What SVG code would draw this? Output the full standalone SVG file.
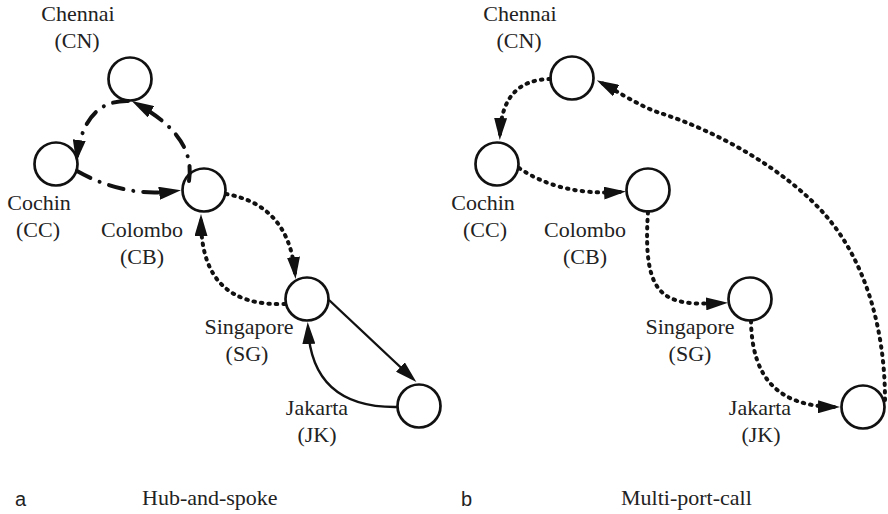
<svg xmlns="http://www.w3.org/2000/svg" width="888" height="514" viewBox="0 0 888 514">
  <defs>
    <marker id="arrow" viewBox="0 0 22 13" markerWidth="22" markerHeight="13" refX="16" refY="6.5" orient="auto" markerUnits="userSpaceOnUse">
      <path d="M0,0 L22,6.5 L0,13 Z" fill="#111"/>
    </marker>
    <style>
      .port { fill: #fff; stroke: #111; stroke-width: 2.7; }
      .lbl { font-family: "Liberation Serif", "Times New Roman", serif; font-size: 22px; fill: #222; text-anchor: middle; }
      .cap { font-family: "Liberation Serif", "Times New Roman", serif; font-size: 22px; fill: #222; }
      .tag { font-family: "Liberation Sans", Arial, sans-serif; font-size: 20px; fill: #222; }
      .edge { fill: none; stroke: #111; marker-end: url(#arrow); }
      .solid { stroke-width: 2.4; }
      .dotted { stroke-width: 4; stroke-dasharray: 1.5 6; stroke-linecap: round; }
      .dashdot { stroke-width: 4; stroke-dasharray: 15 10 0.01 10; stroke-linecap: round; }
    </style>
  </defs>

  <!-- Panel a: hub-and-spoke -->
  <g id="a-CN"><circle class="port" cx="130" cy="79" r="21.5"/><text class="lbl" x="78" y="21">Chennai</text><text class="lbl" x="77" y="48">(CN)</text></g>
  <g id="a-CC"><circle class="port" cx="56" cy="164" r="21.5"/><text class="lbl" x="39" y="210">Cochin</text><text class="lbl" x="38" y="237">(CC)</text></g>
  <g id="a-CB"><circle class="port" cx="204" cy="190" r="21.5"/><text class="lbl" x="142" y="237">Colombo</text><text class="lbl" x="142" y="264">(CB)</text></g>
  <g id="a-SG"><circle class="port" cx="307" cy="299" r="21.5"/><text class="lbl" x="249" y="334">Singapore</text><text class="lbl" x="247" y="361">(SG)</text></g>
  <g id="a-JK"><circle class="port" cx="419" cy="406" r="21.5"/><text class="lbl" x="317" y="415">Jakarta</text><text class="lbl" x="317" y="442">(JK)</text></g>

  <!-- Panel b: multi-port-call -->
  <g id="b-CN"><circle class="port" cx="572" cy="78" r="21.5"/><text class="lbl" x="520" y="21">Chennai</text><text class="lbl" x="519" y="48">(CN)</text></g>
  <g id="b-CC"><circle class="port" cx="497" cy="164" r="21.5"/><text class="lbl" x="483" y="210">Cochin</text><text class="lbl" x="485" y="237">(CC)</text></g>
  <g id="b-CB"><circle class="port" cx="648" cy="190" r="21.5"/><text class="lbl" x="585" y="237">Colombo</text><text class="lbl" x="585" y="264">(CB)</text></g>
  <g id="b-SG"><circle class="port" cx="750" cy="299" r="21.5"/><text class="lbl" x="690" y="334">Singapore</text><text class="lbl" x="690" y="361">(SG)</text></g>
  <g id="b-JK"><circle class="port" cx="863" cy="407" r="21.5"/><text class="lbl" x="760" y="415">Jakarta</text><text class="lbl" x="761" y="442">(JK)</text></g>

  <g id="connectors">
    <!-- a: feeder loop (dash-dot) -->
    <path class="edge dashdot" d="M128 101 Q85 100 77 156"/>
    <path class="edge dashdot" d="M77 171 Q125 198 175 191"/>
    <path class="edge dashdot" d="M189 181 C194 150 175 125 137 104"/>
    <!-- a: CB / SG (dotted) -->
    <path class="edge dotted" d="M226 194 C260 200 290 220 295 273"/>
    <path class="edge dotted" d="M285 304 C230 306 201 280 201 220"/>
    <!-- a: SG / JK (solid) -->
    <path class="edge solid" d="M329 300 L412 378"/>
    <path class="edge solid" d="M397 407 Q312 408 308 328"/>

    <!-- b: single loop (dotted) -->
    <path class="edge dotted" d="M550 79 Q502 80 500 134"/>
    <path class="edge dotted" d="M519 168 Q560 196 620 192"/>
    <path class="edge dotted" d="M648 212 C642 300 665 306 722 303"/>
    <path class="edge dotted" d="M751 321 C752 380 780 406 834 407"/>
    <path class="edge dotted" d="M885 400 C885 330 866 263 827 217 C788 171 717 131 660 113 C641 107 615 90 602 83"/>
  </g>

  <text class="tag" x="15" y="506">a</text>
  <text class="cap" x="142" y="505">Hub-and-spoke</text>
  <text class="tag" x="461" y="506">b</text>
  <text class="cap" x="621" y="505">Multi-port-call</text>
</svg>
